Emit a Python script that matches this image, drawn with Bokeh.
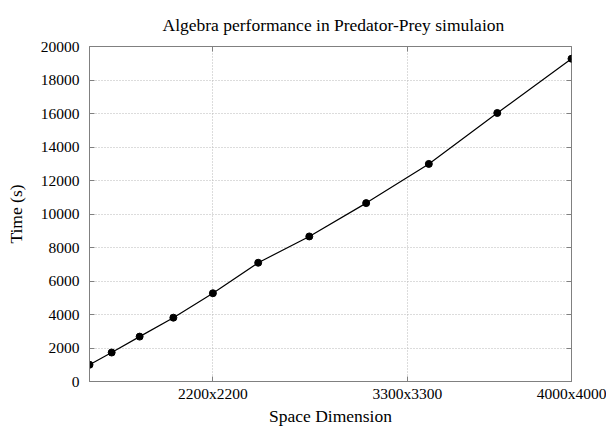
from bokeh.plotting import figure
from bokeh.models import FixedTicker, LinearAxis, Range1d
from bokeh.embed import file_html
from bokeh.resources import INLINE

# Data
dimensions = [1000, 1300, 1600, 1900, 2200, 2500, 2800, 3100, 3400, 3700, 4000]
times = [1000, 1730, 2680, 3810, 5270, 7090, 8660, 10650, 12990, 16030, 19270]
x_tick_dims = [2200, 3300, 4000]
y_ticks = list(range(0, 20001, 2000))

cells = [d * d for d in dimensions]
x_ticks = [d * d for d in x_tick_dims]
x_labels = {float(d * d): f"{d}x{d}" for d in x_tick_dims}

FONT = "Liberation Serif"
GRAY = "#808080"

p = figure(width=606, height=428, output_backend="svg", toolbar_location=None,
           x_range=Range1d(1_000_000, 16_000_000), y_range=Range1d(0, 20000),
           title="Algebra performance in Predator-Prey simulaion",
           min_border_left=89, min_border_right=35, min_border_top=46, min_border_bottom=47)

p.title.align = "left"
p.title.offset = 73
p.title.text_font = FONT
p.title.text_font_style = "normal"
p.title.text_font_size = "17.5px"
p.title.text_color = "#000000"
p.title.standoff = 24

p.outline_line_color = GRAY
p.outline_line_width = 1
p.background_fill_color = "white"
p.border_fill_color = "white"

xa = p.xaxis[0]
xa.ticker = FixedTicker(ticks=x_ticks)
xa.major_label_overrides = x_labels
xa.axis_label = "Space Dimension"
ya = p.yaxis[0]
ya.ticker = FixedTicker(ticks=y_ticks)
ya.axis_label = "Time (s)"

for ax in (xa, ya):
    ax.axis_line_color = GRAY
    ax.major_tick_line_color = GRAY
    ax.major_tick_in = 5
    ax.major_tick_out = 0
    ax.minor_tick_line_color = None
    ax.major_label_text_font = FONT
    ax.major_label_text_font_size = "15.5px"
    ax.major_label_text_color = "#000000"
    ax.axis_label_text_font = FONT
    ax.axis_label_text_font_size = "17.5px"
    ax.axis_label_text_font_style = "normal"
    ax.axis_label_text_color = "#000000"

xa.major_label_standoff = 3
xa.axis_label_standoff = 1
ya.major_label_standoff = 10
ya.axis_label_standoff = 12

# mirrored ticks on top and right (labels hidden)
top = LinearAxis(ticker=FixedTicker(ticks=x_ticks), major_label_text_color=None,
                 major_label_text_font_size="1px",
                 major_label_standoff=0, major_tick_in=5, major_tick_out=0,
                 major_tick_line_color=GRAY, axis_line_color=None, minor_tick_line_color=None)
right = LinearAxis(ticker=FixedTicker(ticks=y_ticks), major_label_text_color=None,
                   major_label_text_font_size="1px",
                   major_label_standoff=0, major_tick_in=5, major_tick_out=0,
                   major_tick_line_color=GRAY, axis_line_color=None, minor_tick_line_color=None)
p.add_layout(top, "above")
p.add_layout(right, "right")

p.xgrid.ticker = FixedTicker(ticks=x_ticks)
p.ygrid.ticker = FixedTicker(ticks=y_ticks)
for g in (p.xgrid[0], p.ygrid[0]):
    g.grid_line_color = "#b8b8b8"
    g.grid_line_dash = "1 2"
    g.grid_line_width = 1

p.line(cells, times, line_color="black", line_width=1.2)
p.scatter(cells, times, size=7, fill_color="black", line_color="black")

open("out.html", "w").write(file_html(p, INLINE))
